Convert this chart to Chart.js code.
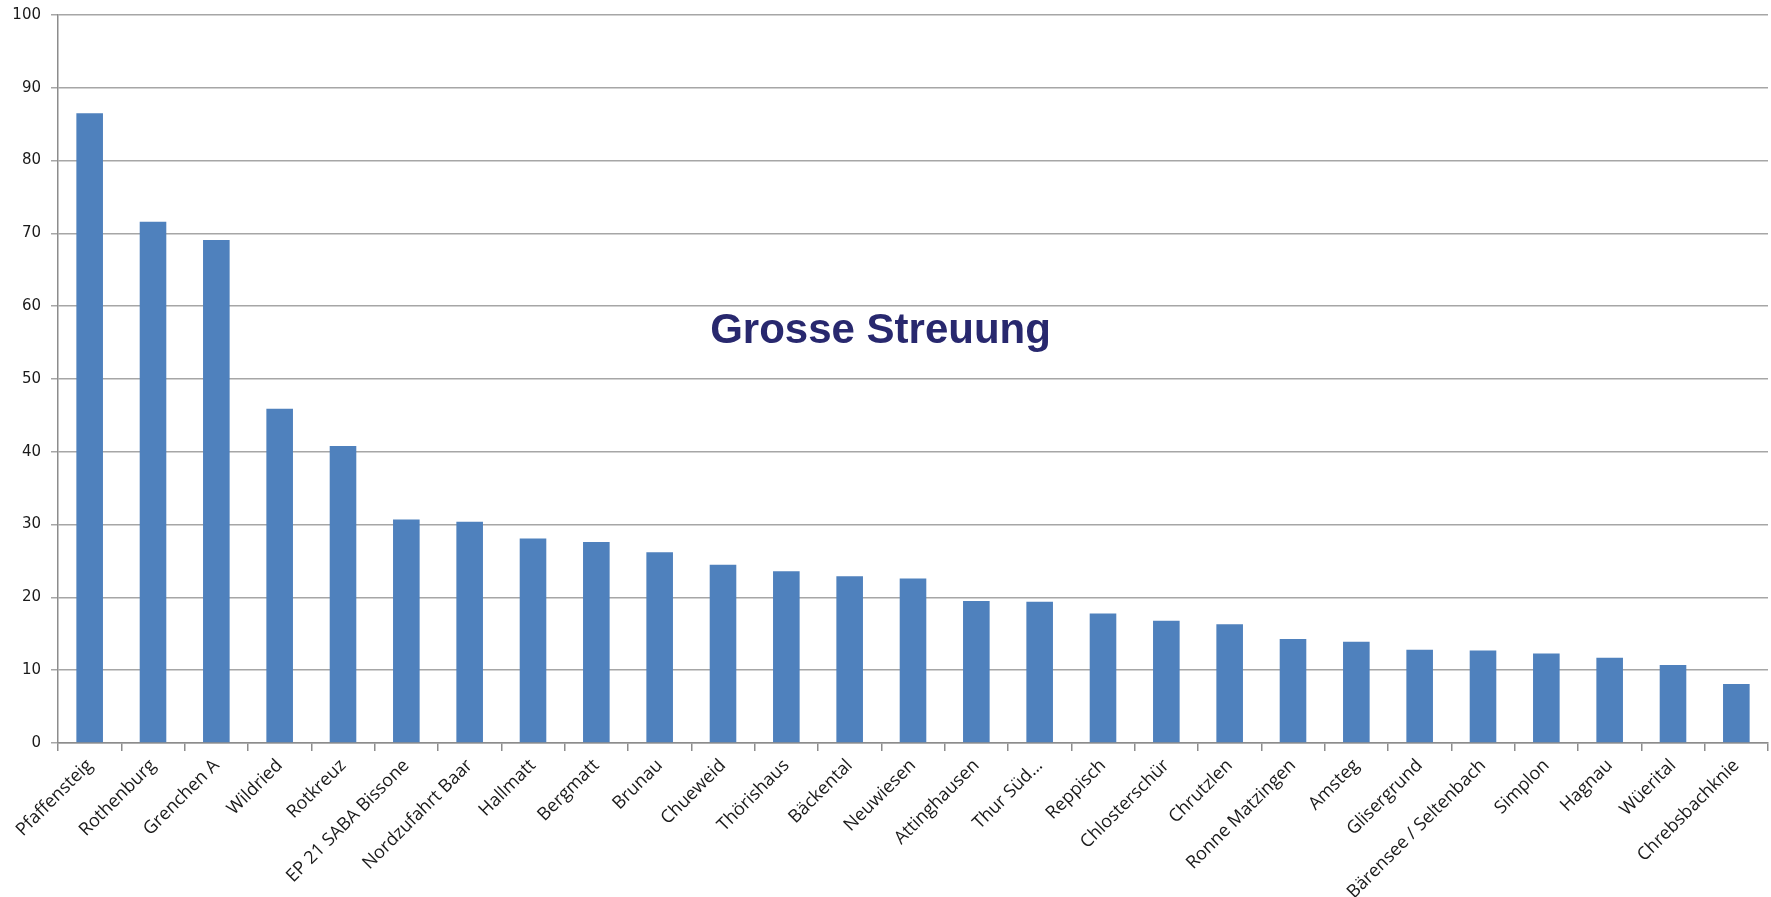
<!DOCTYPE html>
<html>
<head>
<meta charset="utf-8">
<script src="https://cdn.jsdelivr.net/npm/chart.js@4/dist/chart.umd.min.js"></script>
<style>
  html, body { margin: 0; padding: 0; background: #ffffff; }
  #wrap { width: 1771px; height: 897px; }
</style>
</head>
<body>
<div id="wrap"><canvas id="c" width="1771" height="897"></canvas></div>
<script>
// Sites and their values
const categories = [
  "Pfaffensteig", "Rothenburg", "Grenchen A", "Wildried", "Rotkreuz",
  "EP 21 SABA Bissone", "Nordzufahrt Baar", "Hallmatt", "Bergmatt", "Brunau",
  "Chueweid", "Thörishaus", "Bäckental", "Neuwiesen", "Attinghausen",
  "Thur Süd…", "Reppisch", "Chlosterschür", "Chrutzlen", "Ronne Matzingen",
  "Amsteg", "Glisergrund", "Bärensee / Seltenbach", "Simplon", "Hagnau",
  "Wüerital", "Chrebsbachknie"
];
const values = [
  86.5, 71.6, 69.1, 45.9, 40.8,
  30.7, 30.4, 28.1, 27.6, 26.2,
  24.5, 23.6, 22.9, 22.6, 19.5,
  19.4, 17.8, 16.8, 16.3, 14.3,
  13.9, 12.8, 12.7, 12.3, 11.7,
  10.7, 8.1
];
const yTicks = [0, 10, 20, 30, 40, 50, 60, 70, 80, 90, 100];
const annotationText = "Grosse Streuung";

// Draws the centred annotation inside the plot area
const annotationPlugin = {
  id: 'annotationText',
  afterDraw(chart) {
    const { ctx, chartArea, scales } = chart;
    const x = chartArea.left + (chartArea.right - chartArea.left) * 0.481;
    const y = scales.y.getPixelForValue(55);
    ctx.save();
    ctx.font = 'bold 42px "Liberation Sans", Arial, sans-serif';
    ctx.fillStyle = '#28286e';
    ctx.textAlign = 'center';
    ctx.textBaseline = 'alphabetic';
    ctx.fillText(annotationText, x, y);
    ctx.restore();
  }
};

new Chart(document.getElementById('c'), {
  type: 'bar',
  data: {
    labels: categories,
    datasets: [{
      data: values,
      backgroundColor: '#4f81bd',
      borderWidth: 0,
      categoryPercentage: 1.0,
      barPercentage: 0.42
    }]
  },
  options: {
    responsive: false,
    animation: false,
    layout: { padding: { top: 15, right: 3, left: 0, bottom: 0 } },
    plugins: {
      legend: { display: false },
      title: { display: false },
      tooltip: { enabled: false }
    },
    scales: {
      x: {
        offset: true,
        grid: {
          offset: true,
          drawOnChartArea: false,
          drawTicks: true,
          tickLength: 8,
          color: '#8c8c8c',
          lineWidth: 1.5
        },
        border: { color: '#8c8c8c', width: 1.5 },
        ticks: {
          minRotation: 45,
          maxRotation: 45,
          autoSkip: false,
          padding: 4,
          color: '#1a1a1a',
          font: { family: '"Open Sans", "DejaVu Sans", sans-serif', size: 18 }
        },
        afterFit(scale) { scale.height = 154; }
      },
      y: {
        min: 0,
        max: 100,
        afterBuildTicks(scale) {
          scale.ticks = yTicks.map(v => ({ value: v }));
        },
        grid: {
          color: '#a6a6a6',
          lineWidth: 1.5,
          drawTicks: true,
          tickLength: 7
        },
        border: { color: '#8c8c8c', width: 1.5 },
        ticks: {
          padding: 10,
          color: '#1a1a1a',
          font: { family: '"DejaVu Sans", Verdana, sans-serif', size: 15 }
        },
        afterFit(scale) {
          scale.width = 58;
          scale.paddingTop = 0;
          scale.paddingBottom = 0;
        }
      }
    }
  },
  plugins: [annotationPlugin]
});
</script>
</body>
</html>
